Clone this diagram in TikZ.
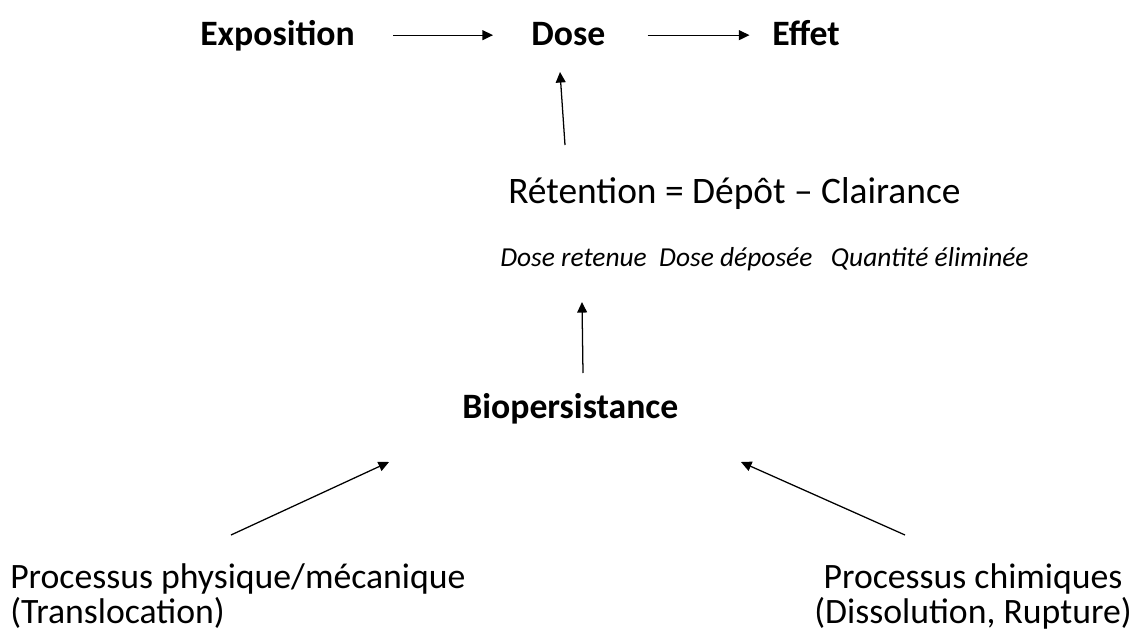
\documentclass[tikz,border=0pt]{standalone}
\usepackage{fontspec}
\setmainfont{Carlito}
\usetikzlibrary{arrows.meta}
\tikzstyle{texte} = [inner sep=0pt, font=\fontsize{25.4}{24.9}\selectfont]
\tikzstyle{titre} = [inner sep=0pt, font=\fontsize{25.4}{30}\selectfont\bfseries]
\tikzstyle{petit} = [inner sep=0pt, font=\fontsize{19.5}{24}\selectfont\itshape]
\tikzstyle{arrow} = [line width=0.9pt,-{Triangle[length=7.5pt,width=7pt]}]

\begin{document}
\begin{tikzpicture}[x=0.025cm, y=-0.025cm]
        \useasboundingbox (0,0) rectangle (1134,638);
        \node (expo) [titre, anchor=base west] at (200,45) {Exposition};
        \node (dose) [titre, anchor=base west] at (531,45) {Dose};
        \node (effet) [titre, anchor=base west] at (772,45) {Effet};
        \node (retention) [texte, anchor=base west, font=\fontsize{26.6}{30}\selectfont] at (508,203) {Rétention = Dépôt -- Clairance};
        \node (detail) [petit, anchor=base west] at (500,266) {Dose retenue\ \ Dose déposée\ \ \ Quantité éliminée};
        \node (biopers) [titre, anchor=base west] at (462,418) {Biopersistance};
        \node (physique) [texte, align=left, anchor=north west] at (10,563) {Processus physique/mécanique\\(Translocation)};
        \node (chimique) [texte, align=center, anchor=north east] at (1132,563) {Processus chimiques\\(Dissolution, Rupture)};
        % extremites libres des fleches
        \coordinate (retbas) at (565,145);
        \coordinate (dosebas) at (560,72);
        \coordinate (detbas) at (583,373);
        \coordinate (dethaut) at (582,302);
        \coordinate (physhaut) at (231,535);
        \coordinate (bioG) at (389,462);
        \coordinate (chimhaut) at (905,535);
        \coordinate (bioD) at (741,462);

        \draw [arrow] ([xshift=27pt, yshift=7pt]expo.base east) -- ([xshift=-27pt, yshift=7pt]dose.base west);
        \draw [arrow] ([xshift=30pt, yshift=7pt]dose.base east) -- ([xshift=-16pt, yshift=7pt]effet.base west);
        \draw [arrow] (retbas) -- (dosebas);
        \draw [arrow] (detbas) -- (dethaut);
        \draw [arrow] (physhaut) -- (bioG);
        \draw [arrow] (chimhaut) -- (bioD);
    \end{tikzpicture}
\end{document}
